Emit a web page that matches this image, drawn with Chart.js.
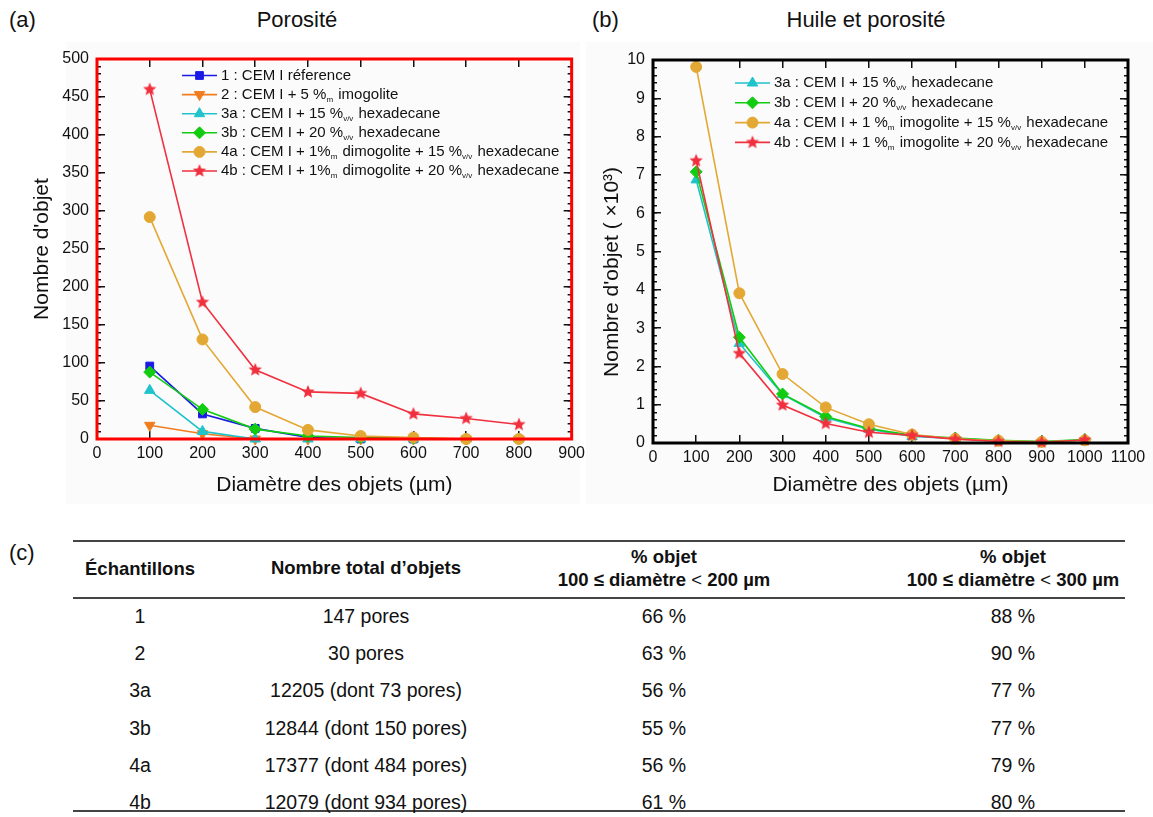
<!DOCTYPE html>
<html lang="fr">
<head>
<meta charset="utf-8">
<script src="https://cdn.jsdelivr.net/npm/chart.js@4.4.1/dist/chart.umd.min.js"></script>
<style>
  html, body { margin: 0; padding: 0; background: #fff; }
  body { width: 1153px; height: 817px; position: relative; overflow: hidden;
         font-family: "Liberation Sans", Arial, sans-serif; color: #111; }
  .panel { position: absolute; top: 42px; height: 462px; background: #fbfbfb; }
  canvas { position: absolute; }
  .lbl { position: absolute; font-size: 22px; line-height: 26px; }
  .title { position: absolute; font-size: 22px; line-height: 26px; text-align: center; }
  .rule { position: absolute; left: 73px; width: 1052px; background: #444; }
  .cell { position: absolute; text-align: center; font-size: 19.5px; line-height: 24px; white-space: nowrap; }
  .head { font-weight: bold; font-size: 18.5px; }
  .lt { font-weight: normal; }
</style>
</head>
<body>
<div class="panel" style="left:66px;width:514px"></div>
<div class="panel" style="left:586px;width:567px"></div>
<div class="lbl" style="left:9px;top:7px">(a)</div>
<div class="lbl" style="left:592px;top:7px">(b)</div>
<div class="lbl" style="left:9px;top:540px">(c)</div>
<div class="title" style="left:197px;width:200px;top:7px">Porosité</div>
<div class="title" style="left:766px;width:200px;top:7px">Huile et porosité</div>
<canvas id="chartA" width="590" height="470" style="left:0;top:40px"></canvas>
<canvas id="chartB" width="568" height="470" style="left:585px;top:40px"></canvas>
<div id="table"></div>

<script>
// ---- données (a) Porosité ----
const diamA = [100, 200, 300, 400, 500, 600, 700, 800];
const s1 = [96, 33, 14, 2, 0, 0, null, null];
const s2 = [18, 7, 0, 0, 0, 0, 0, 0];
const s3a = [64, 10, 0, 0, 0, 0, 0, 0];
const s3b = [88, 39, 13, 4, 2, 1, 0, 0];
const s4a = [292, 131, 42, 12, 4, 2, 0, 0];
const s4b = [460, 180, 91, 62, 60, 33, 27, 19];

// ---- données (b) Huile et porosité (x10^3) ----
const diamB = [100, 200, 300, 400, 500, 600, 700, 800, 900, 1000];
const h3a = [6.87, 2.6, 1.27, 0.66, 0.36, 0.17, 0.12, 0.06, 0.03, 0.08];
const h3b = [7.08, 2.76, 1.28, 0.69, 0.38, 0.2, 0.13, 0.07, 0.04, 0.09];
const h4a = [9.82, 3.91, 1.8, 0.93, 0.49, 0.22, 0.11, 0.06, 0.03, 0.07];
const h4b = [7.37, 2.34, 0.99, 0.51, 0.28, 0.2, 0.1, 0.04, 0.02, 0.08];

// ---- tableau (c) ----
const samples = ["1", "2", "3a", "3b", "4a", "4b"];
const totals = ["147 pores", "30 pores", "12205 (dont 73 pores)", "12844 (dont 150 pores)",
                "17377 (dont 484 pores)", "12079 (dont 934 pores)"];
const pct200 = ["66 %", "63 %", "56 %", "55 %", "56 %", "61 %"];
const pct300 = ["88 %", "90 %", "77 %", "77 %", "79 %", "80 %"];

const FONT = "'Liberation Sans', Arial, sans-serif";
const INK = "#111111";
const C = {
  blue: "#1a1ae6", orange: "#f07c1e", cyan: "#1fc3cc",
  green: "#12cc12", gold: "#e3a834", red: "#f0303e",
};

// étoile pleine (le 'star' de Chart.js n'est qu'un astérisque)
function starImage(color, r) {
  const c = document.createElement("canvas");
  c.width = c.height = Math.ceil(r * 2 + 2);
  const g = c.getContext("2d");
  const cx = c.width / 2, cy = c.height / 2;
  g.beginPath();
  for (let i = 0; i < 10; i++) {
    const rr = i % 2 === 0 ? r : r * 0.45;
    const a = -Math.PI / 2 + i * Math.PI / 5;
    g.lineTo(cx + rr * Math.cos(a), cy + rr * Math.sin(a));
  }
  g.closePath();
  g.fillStyle = color;
  g.fill();
  return c;
}
const STAR = starImage(C.red, 7);

function pts(xs, ys) {
  return xs.map((x, i) => ({ x: x, y: ys[i] }));
}

function ds(label, legend, xs, ys, color, style, extra) {
  return Object.assign({
    label: label,
    legendText: legend,
    data: pts(xs, ys),
    xAxisID: "x",
    yAxisID: "y",
    borderColor: color,
    backgroundColor: color,
    pointBackgroundColor: color,
    pointBorderColor: color,
    borderWidth: 1.6,
    pointStyle: style,
    pointRadius: 5,
    pointBorderWidth: 1,
    tension: 0,
    clip: false,
    spanGaps: false,
  }, extra || {});
}

// légende interne avec indices (%m, %v/v) + cadre de test
const innerLegend = {
  id: "innerLegend",
  afterDatasetsDraw(chart, args, lg) {
    const { ctx, chartArea: a } = chart;
    ctx.save();
    // cadre de contrôle, épais et coloré
    ctx.strokeStyle = lg.frame;
    ctx.lineWidth = 3;
    ctx.beginPath();
    ctx.moveTo(a.left, a.top); ctx.lineTo(a.right, a.top);
    ctx.lineTo(a.right, a.bottom); ctx.lineTo(a.left, a.bottom); ctx.closePath();
    ctx.stroke();
    chart.data.datasets.forEach((d, i) => {
      const y = a.top + lg.top + i * lg.gap;
      const x0 = a.left + lg.left;
      ctx.strokeStyle = d.borderColor;
      ctx.fillStyle = d.borderColor;
      ctx.lineWidth = 1.6;
      ctx.beginPath();
      ctx.moveTo(x0, y); ctx.lineTo(x0 + 35, y);
      ctx.stroke();
      ctx.lineWidth = 1;
      Chart.helpers.drawPoint(ctx, {
        pointStyle: d.pointStyle, radius: d.pointRadius, rotation: d.rotation || 0,
        borderWidth: 1,
      }, x0 + 17.5, y);
      let x = x0 + 39;
      ctx.fillStyle = INK;
      ctx.textBaseline = "middle";
      d.legendText.split(/(_\{[^}]*\})/).forEach((part) => {
        if (!part) return;
        if (part.startsWith("_{")) {
          const s = part.slice(2, -1);
          ctx.font = "8px " + FONT;
          ctx.fillText(s, x, y + 5);
          x += ctx.measureText(s).width + 1;
        } else {
          ctx.font = lg.size + "px " + FONT;
          ctx.fillText(part, x, y);
          x += ctx.measureText(part).width;
        }
      });
    });
    ctx.restore();
  },
};

// axe sans texte, d'épaisseur nulle : graduations vers l'intérieur (tickLength négatif)
function bareAxis(axis, position, max, step, len, border) {
  return {
    axis: axis, type: "linear", position: position, min: 0, max: max, weight: 0,
    ticks: { display: false, stepSize: step, autoSkip: false },
    grid: { display: true, drawOnChartArea: false, drawTicks: true, tickLength: -len,
            color: INK, lineWidth: 1.5 },
    border: { display: border, color: INK, width: 2 },
    afterFit: (s) => { if (axis === "x") s.height = 0; else s.width = 0; },
  };
}

function axes(xMax, yMax, yStep, yMinor, yWidth, yTitle, yTitlePad, xHeight) {
  return {
    x: {
      axis: "x", type: "linear", position: "bottom", min: 0, max: xMax, weight: 1,
      grid: { display: true, drawOnChartArea: false, drawTicks: false },
      border: { display: true, color: INK, width: 2 },
      ticks: { stepSize: 100, color: INK, font: { family: FONT, size: 16 }, padding: 5,
               maxRotation: 0, autoSkip: false, callback: (v) => String(v) },
      title: { display: true, text: "Diamètre des objets (µm)", color: INK,
               font: { family: FONT, size: 21 }, padding: { top: 0, bottom: 12 } },
      afterFit: (s) => { s.height = xHeight; },
    },
    xTk: bareAxis("x", "bottom", xMax, 100, 8, false),
    x2: bareAxis("x", "top", xMax, 100, 8, true),
    y: {
      axis: "y", type: "linear", position: "left", min: 0, max: yMax, weight: 1,
      grid: { display: true, drawOnChartArea: false, drawTicks: false },
      border: { display: true, color: INK, width: 2 },
      ticks: { stepSize: yStep, color: INK, font: { family: FONT, size: 16 }, padding: 8,
               autoSkip: false, callback: (v) => String(v) },
      title: { display: true, text: yTitle, color: INK,
               font: { family: FONT, size: 21 }, padding: { top: yTitlePad, bottom: 0 } },
      afterFit: (s) => { s.width = yWidth; },
    },
    yTk: bareAxis("y", "left", yMax, yStep, 8, false),
    yMin: bareAxis("y", "left", yMax, yMinor, 4, false),
    yR: bareAxis("y", "right", yMax, yStep, 8, true),
    yRMin: bareAxis("y", "right", yMax, yMinor, 4, false),
  };
}

function withOrder(list) {
  // les dernières séries se dessinent par-dessus
  list.forEach((d, i) => { d.order = list.length - i; });
  return list;
}

new Chart(document.getElementById("chartA"), {
  type: "line",
  data: {
    datasets: withOrder([
      ds("1 : CEM I réference", "1 : CEM I réference", diamA, s1, C.blue, "rect", { pointRadius: 5.5 }),
      ds("2 : CEM I + 5 %m imogolite", "2 : CEM I + 5 %_{m} imogolite", diamA, s2, C.orange, "triangle", { rotation: 180, pointRotation: 180, pointRadius: 6 }),
      ds("3a : CEM I + 15 %v/v hexadecane", "3a : CEM I + 15 %_{v/v} hexadecane", diamA, s3a, C.cyan, "triangle", { pointRadius: 6 }),
      ds("3b : CEM I + 20 %v/v hexadecane", "3b : CEM I + 20 %_{v/v} hexadecane", diamA, s3b, C.green, "rectRot", { pointRadius: 6 }),
      ds("4a : CEM I + 1%m dimogolite + 15 %v/v hexadecane", "4a : CEM I + 1%_{m} dimogolite + 15 %_{v/v} hexadecane", diamA, s4a, C.gold, "circle", { pointRadius: 5.5 }),
      ds("4b : CEM I + 1%m dimogolite + 20 %v/v hexadecane", "4b : CEM I + 1%_{m} dimogolite + 20 %_{v/v} hexadecane", diamA, s4b, C.red, STAR, { pointRadius: 7 }),
    ]),
  },
  options: {
    responsive: false, animation: false, events: [],
    layout: { padding: { top: 19, right: 18, bottom: 0, left: 0 } },
    plugins: {
      legend: { display: false }, tooltip: { enabled: false },
      innerLegend: { left: 85, top: 16.5, gap: 19.1, size: 15, frame: "#ff0000" },
    },
    scales: axes(900, 500, 50, 10, 97, "Nombre d'objet", 30, 71),
  },
  plugins: [innerLegend],
});

new Chart(document.getElementById("chartB"), {
  type: "line",
  data: {
    datasets: withOrder([
      ds("3a : CEM I + 15 %v/v hexadecane", "3a : CEM I + 15 %_{v/v} hexadecane", diamB, h3a, C.cyan, "triangle", { pointRadius: 6 }),
      ds("3b : CEM I + 20 %v/v hexadecane", "3b : CEM I + 20 %_{v/v} hexadecane", diamB, h3b, C.green, "rectRot", { pointRadius: 6 }),
      ds("4a : CEM I + 1 %m imogolite + 15 %v/v hexadecane", "4a : CEM I + 1 %_{m} imogolite + 15 %_{v/v} hexadecane", diamB, h4a, C.gold, "circle", { pointRadius: 5.5 }),
      ds("4b : CEM I + 1 %m imogolite + 20 %v/v hexadecane", "4b : CEM I + 1 %_{m} imogolite + 20 %_{v/v} hexadecane", diamB, h4b, C.red, STAR, { pointRadius: 7 }),
    ]),
  },
  options: {
    responsive: false, animation: false, events: [],
    layout: { padding: { top: 20, right: 25, bottom: 0, left: 0 } },
    plugins: {
      legend: { display: false }, tooltip: { enabled: false },
      innerLegend: { left: 82, top: 23, gap: 19.8, size: 15, frame: "#000000" },
    },
    scales: axes(1100, 10, 1, 0.2, 68, "Nombre d'objet ( ×10³)\u00a0\u00a0\u00a0\u00a0\u00a0\u00a0\u00a0", 15, 67),
  },
  plugins: [innerLegend],
});

// ---- tableau (c) ----
const cols = [140, 366, 664, 1013];
const tbl = document.getElementById("table");
function cell(x, y, html, cls) {
  const d = document.createElement("div");
  d.className = "cell " + (cls || "");
  d.style.left = (x - 200) + "px";
  d.style.width = "400px";
  d.style.top = (y - 12) + "px";
  d.innerHTML = html;
  tbl.appendChild(d);
}
function rule(y, h) {
  const d = document.createElement("div");
  d.className = "rule";
  d.style.top = y + "px";
  d.style.height = h + "px";
  tbl.appendChild(d);
}
rule(540, 2); rule(597, 1.5); rule(810, 1.5);
cell(cols[0], 569, "Échantillons", "head");
cell(cols[1], 568, "Nombre total d’objets", "head");
cell(cols[2], 557, "% objet", "head");
cell(cols[2], 580, "100 ≤ diamètre <span class='lt'>&lt;</span> 200 µm", "head");
cell(cols[3], 557, "% objet", "head");
cell(cols[3], 580, "100 ≤ diamètre <span class='lt'>&lt;</span> 300 µm", "head");
samples.forEach((s, i) => {
  const y = 616 + i * 37.2;
  cell(cols[0], y, s);
  cell(cols[1], y, totals[i]);
  cell(cols[2], y, pct200[i]);
  cell(cols[3], y, pct300[i]);
});
</script>
</body>
</html>
